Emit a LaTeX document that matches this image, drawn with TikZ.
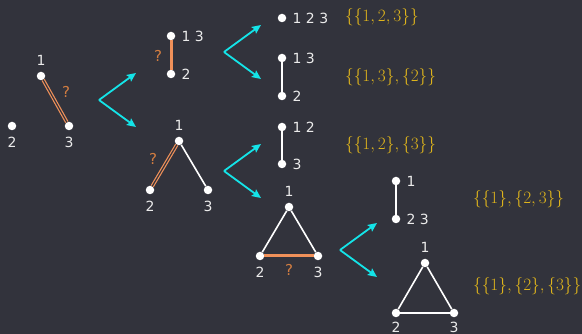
\documentclass[tikz,border=0pt]{standalone}
\usepackage{fontspec}
\usetikzlibrary{arrows.meta}
\newfontfamily\lblfont{DejaVu Sans}
\definecolor{partbg}{RGB}{50, 51, 60}
\definecolor{partlabel}{RGB}{235, 235, 235}
\definecolor{partorange}{RGB}{240, 145, 90}
\definecolor{partq}{RGB}{210, 125, 65}
\definecolor{partcyan}{RGB}{20, 228, 232}
\definecolor{partyellow}{RGB}{222, 180, 28}

\begin{document}
\begin{tikzpicture}[x=1pt, y=-1pt,
  vtx/.style={circle, fill=white, inner sep=0pt, minimum size=8.5pt},
  every label/.style={text=partlabel, font=\lblfont\fontsize{14}{16}\selectfont, inner sep=1pt},
  label distance=5pt,
  edge/.style={draw=white, line width=1.6pt},
  cand/.style={draw=partorange, line width=3pt},
  trial/.style={draw=partorange, line width=1.2pt, double=partbg, double distance=1.2pt},
  split/.style={draw=partcyan, line width=1.8pt, -{Stealth[length=9pt, width=8pt, inset=1.5pt]}},
  qmark/.style={text=partq, font=\lblfont\fontsize{15}{17}\selectfont},
  blocks/.style={text=partyellow, font=\fontsize{17}{20}\selectfont, anchor=west, inner sep=0pt}]

% Fondo
\fill[partbg] (0,0) rectangle (582,334);

% Grafo inicial
\node[vtx, label=above:1] (a1) at (41,76) {};
\node[vtx, label=below:2] (a2) at (12,126) {};
\node[vtx, label=below:3] (a3) at (69,126) {};
\draw[trial] (a1) -- (a3);
\node[qmark] (qa) at (66,92) {?};

% Segundo nivel
\node[vtx, label=right:1 3] (b13) at (171,36) {};
\node[vtx, label=right:2] (b2) at (171,74) {};
\draw[cand] (b13) -- (b2);
\node[qmark] (qb) at (158,56) {?};

\node[vtx, label=above:1] (c1) at (179,141) {};
\node[vtx, label=below:2] (c2) at (150,190) {};
\node[vtx, label=below:3] (c3) at (208,190) {};
\draw[trial] (c1) -- (c2);
\draw[edge] (c1) -- (c3);
\node[qmark] (qc) at (153,159) {?};

% Tercer nivel
\node[vtx, label=right:1 2 3] (d123) at (282,18) {};
\node[blocks] (pd) at (345,17) {$\{\{1,2,3\}\}$};

\node[vtx, label=right:1 3] (e13) at (282,58) {};
\node[vtx, label=right:2] (e2) at (282,96) {};
\draw[edge] (e13) -- (e2);
\node[blocks] (pe) at (345,77) {$\{\{1,3\},\{2\}\}$};

\node[vtx, label=right:1 2] (f12) at (282,127) {};
\node[vtx, label=right:3] (f3) at (282,164) {};
\draw[edge] (f12) -- (f3);
\node[blocks] (pf) at (345,145) {$\{\{1,2\},\{3\}\}$};

\node[vtx, label=above:1] (g1) at (289,207) {};
\node[vtx, label=below:2] (g2) at (260,256) {};
\node[vtx, label=below:3] (g3) at (318,256) {};
\draw[edge] (g1) -- (g2);
\draw[edge] (g1) -- (g3);
\draw[cand] (g2) -- (g3);
\node[qmark] (qg) at (289,270) {?};

% Cuarto nivel
\node[vtx, label=right:1] (h1) at (396,181) {};
\node[vtx, label=right:2 3] (h23) at (396,219) {};
\draw[edge] (h1) -- (h23);
\node[blocks] (ph) at (473,199) {$\{\{1\},\{2,3\}\}$};

\node[vtx, label=above:1] (k1) at (425,263) {};
\node[vtx, label={[label distance=3pt]below:2}] (k2) at (396,313) {};
\node[vtx, label={[label distance=3pt]below:3}] (k3) at (454,313) {};
\draw[edge] (k1) -- (k2);
\draw[edge] (k1) -- (k3);
\draw[edge] (k2) -- (k3);
\node[blocks] (pk) at (473,286) {$\{\{1\},\{2\},\{3\}\}$};

% Bifurcaciones
\foreach \name/\x/\y in {fa/99/100, fb/224/52, fc/224/171, fd/340/250} {
  \coordinate (\name) at (\x,\y);
  \coordinate (\name-up) at (\x+37,\y-27);
  \coordinate (\name-down) at (\x+37,\y+27);
  \draw[split] (\name) -- (\name-up);
  \draw[split] (\name) -- (\name-down);
}

\end{tikzpicture}
\end{document}
